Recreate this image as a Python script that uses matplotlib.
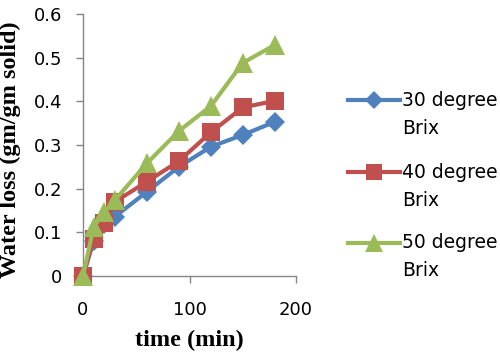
import matplotlib
matplotlib.use("Agg")
import matplotlib.pyplot as plt
from matplotlib.lines import Line2D

time_min = [0, 10, 20, 30, 60, 90, 120, 150, 180]
brix30 = [0, 0.08, 0.12, 0.136, 0.193, 0.25, 0.296, 0.323, 0.353]
brix40 = [0, 0.085, 0.122, 0.17, 0.216, 0.263, 0.329, 0.386, 0.401]
brix50 = [0, 0.112, 0.147, 0.174, 0.258, 0.332, 0.389, 0.488, 0.529]
labels = ["30 degree", "40 degree", "50 degree"]
sublabel = "Brix"
xticks = [0, 100, 200]
yticks = [0, 0.1, 0.2, 0.3, 0.4, 0.5, 0.6]

colors = ["#4F81BD", "#C0504D", "#9BBB59"]
markers = ["D", "s", "^"]
msizes = [10, 13, 14]
series = [brix30, brix40, brix50]

fig = plt.figure(figsize=(5, 3.56), dpi=100)
ax = fig.add_axes([0.166, 0.2247, 0.426, 0.736])

tick_font = "DejaVu Sans"
for i, (vals, c, m, s) in enumerate(zip(series, colors, markers, msizes)):
    ax.plot(time_min, vals, color=c, lw=3, marker=m, ms=s, mew=0, clip_on=False, zorder=3 + i)

ax.set_xlim(0, 200)
ax.set_ylim(0, 0.6)
ax.set_xticks(xticks)
ax.set_yticks(yticks)
ax.set_xticklabels([str(v) for v in xticks], fontsize=13, family=tick_font)
ax.set_yticklabels(["0" if v == 0 else f"{v:.1f}" for v in yticks], fontsize=13, family=tick_font)
for s in ["top", "right"]:
    ax.spines[s].set_visible(False)
for s in ["left", "bottom"]:
    ax.spines[s].set_color("#868686")
    ax.spines[s].set_linewidth(1)
ax.tick_params(axis="both", direction="out", length=5, color="#868686", width=1)
ax.tick_params(axis="x", pad=13)
ax.tick_params(axis="y", pad=10)

ax.set_xlabel("time (min)", fontsize=17.5, fontweight="bold", family="Liberation Serif", labelpad=8)
ax.set_ylabel("Water loss (gm/gm solid)", fontsize=17.5, fontweight="bold", family="Liberation Serif")
ax.yaxis.set_label_coords(-0.29, 0.481)

# legend drawn manually (entry lines aligned with the first text line)
W, H = 500, 356
leg_y = [100, 172, 243]
for lab, c, m, s, y in zip(labels, colors, markers, msizes, leg_y):
    yf = 1 - y / H
    fig.add_artist(Line2D([348 / W, 400 / W], [yf, yf], color=c, lw=3, transform=fig.transFigure))
    fig.add_artist(Line2D([374 / W], [yf], color=c, marker=m, ms=s - 1, mew=0, transform=fig.transFigure))
    fig.text(402 / W, yf, lab, fontsize=13.5, family=tick_font, va="center", ha="left")
    fig.text(402 / W, 1 - (y + 28) / H, sublabel, fontsize=13.5, family=tick_font, va="center", ha="left")

fig.savefig("out.png", dpi=100)
